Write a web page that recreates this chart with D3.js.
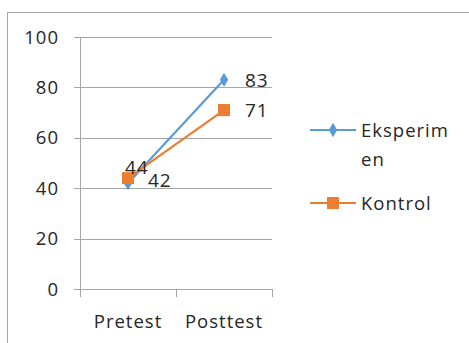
<!DOCTYPE html>
<html>
<head>
<meta charset="utf-8">
<script src="https://cdn.jsdelivr.net/npm/d3@7"></script>
<style>
  html, body { margin: 0; padding: 0; background: #fff; }
  svg { display: block; font-family: "Open Sans", "Liberation Sans", sans-serif; }
  text { letter-spacing: 1px; }
</style>
</head>
<body>
<svg id="chart" width="469" height="343"></svg>
<script>
const categories = ["Pretest", "Posttest"];
const eksperimen = [42, 83];
const kontrol = [44, 71];
const yTicks = [0, 20, 40, 60, 80, 100];
const seriesNames = ["Eksperimen", "Kontrol"];

const svg = d3.select("#chart");
const W = 469, H = 343;

// chart frame
svg.append("rect")
  .attr("x", 7.5).attr("y", 12.5)
  .attr("width", W).attr("height", H)
  .attr("fill", "none").attr("stroke", "#a6a6a6").attr("stroke-width", 1);

const plot = { left: 80, right: 272, top: 37, bottom: 289 };

const x = d3.scaleBand().domain(categories).range([plot.left, plot.right]);
const y = d3.scaleLinear().domain([0, 100]).range([plot.bottom, plot.top]);

const g = svg.append("g");
const fs = 18.5;

// horizontal gridlines with short ticks to the left
g.selectAll("line.grid").data(yTicks).enter().append("line")
  .attr("class", "grid")
  .attr("x1", plot.left - 6).attr("x2", plot.right)
  .attr("y1", d => Math.round(y(d)) + 0.5).attr("y2", d => Math.round(y(d)) + 0.5)
  .attr("stroke", "#a6a6a6").attr("stroke-width", 1);

// y axis line
g.append("line")
  .attr("x1", plot.left + 0.5).attr("x2", plot.left + 0.5)
  .attr("y1", plot.top).attr("y2", plot.bottom + 8)
  .attr("stroke", "#a6a6a6");

// category boundary ticks
const bounds = [plot.left, plot.left + x.bandwidth(), plot.right];
g.selectAll("line.ctick").data(bounds.slice(1)).enter().append("line")
  .attr("class", "ctick")
  .attr("x1", d => d + 0.5).attr("x2", d => d + 0.5)
  .attr("y1", plot.bottom).attr("y2", plot.bottom + 8)
  .attr("stroke", "#a6a6a6");

// y tick labels
g.selectAll("text.ytick").data(yTicks).enter().append("text")
  .attr("x", plot.left - 21).attr("y", d => y(d))
  .attr("dy", "0.36em").attr("text-anchor", "end")
  .attr("font-size", fs).attr("fill", "#262626")
  .text(d => d);

// x category labels
g.selectAll("text.xcat").data(categories).enter().append("text")
  .attr("x", d => x(d) + x.bandwidth() / 2).attr("y", 328)
  .attr("text-anchor", "middle")
  .attr("font-size", fs).attr("fill", "#262626")
  .text(d => d);

const cx = d => x(d) + x.bandwidth() / 2;
const line = d3.line().x((d, i) => cx(categories[i])).y(d => y(d));

const blue = "#5b9bd5", orange = "#ed7d31";

// Eksperimen series
g.append("path").datum(eksperimen)
  .attr("d", line).attr("fill", "none")
  .attr("stroke", blue).attr("stroke-width", 2.2);
const diamond = d3.symbol().type(d3.symbolDiamond).size(60);
g.selectAll("path.dm").data(eksperimen).enter().append("path")
  .attr("transform", (d, i) => `translate(${cx(categories[i])},${y(d)})`)
  .attr("d", diamond).attr("fill", blue);

// Kontrol series
g.append("path").datum(kontrol)
  .attr("d", line).attr("fill", "none")
  .attr("stroke", orange).attr("stroke-width", 2.2);
g.selectAll("rect.sq").data(kontrol).enter().append("rect")
  .attr("x", (d, i) => cx(categories[i]) - 6).attr("y", d => y(d) - 6)
  .attr("width", 12).attr("height", 12).attr("fill", orange);

// value labels
const labelStyle = sel => sel.attr("font-size", 19).attr("fill", "#262626");
g.append("text").call(labelStyle)
  .attr("x", cx(categories[1]) + 21).attr("y", y(eksperimen[1]) + 7)
  .text(eksperimen[1]);
g.append("text").call(labelStyle)
  .attr("x", cx(categories[1]) + 21).attr("y", y(kontrol[1]) + 7)
  .text(kontrol[1]);
g.append("text").call(labelStyle)
  .attr("x", cx(categories[0]) - 3).attr("y", y(kontrol[0]) - 4)
  .text(kontrol[0]);
g.append("text").call(labelStyle)
  .attr("x", cx(categories[0]) + 20).attr("y", y(eksperimen[0]) + 4)
  .text(eksperimen[0]);

// legend
const leg = svg.append("g");
const legX1 = 310, legX2 = 356;
const legRows = [
  { name: seriesNames[0], color: blue, y: 130, lines: ["Eksperim", "en"], marker: "diamond" },
  { name: seriesNames[1], color: orange, y: 203, lines: ["Kontrol"], marker: "square" }
];
legRows.forEach(r => {
  leg.append("line").attr("x1", legX1).attr("x2", legX2)
    .attr("y1", r.y).attr("y2", r.y)
    .attr("stroke", r.color).attr("stroke-width", 2.2);
  const mx = (legX1 + legX2) / 2;
  if (r.marker === "diamond") {
    leg.append("path").attr("transform", `translate(${mx},${r.y})`)
      .attr("d", diamond).attr("fill", r.color);
  } else {
    leg.append("rect").attr("x", mx - 6).attr("y", r.y - 6)
      .attr("width", 12).attr("height", 12).attr("fill", r.color);
  }
  r.lines.forEach((t, i) => {
    leg.append("text").attr("x", 361).attr("y", r.y + 7 + i * 29)
      .attr("font-size", fs).attr("fill", "#262626").text(t);
  });
});
</script>
</body>
</html>
